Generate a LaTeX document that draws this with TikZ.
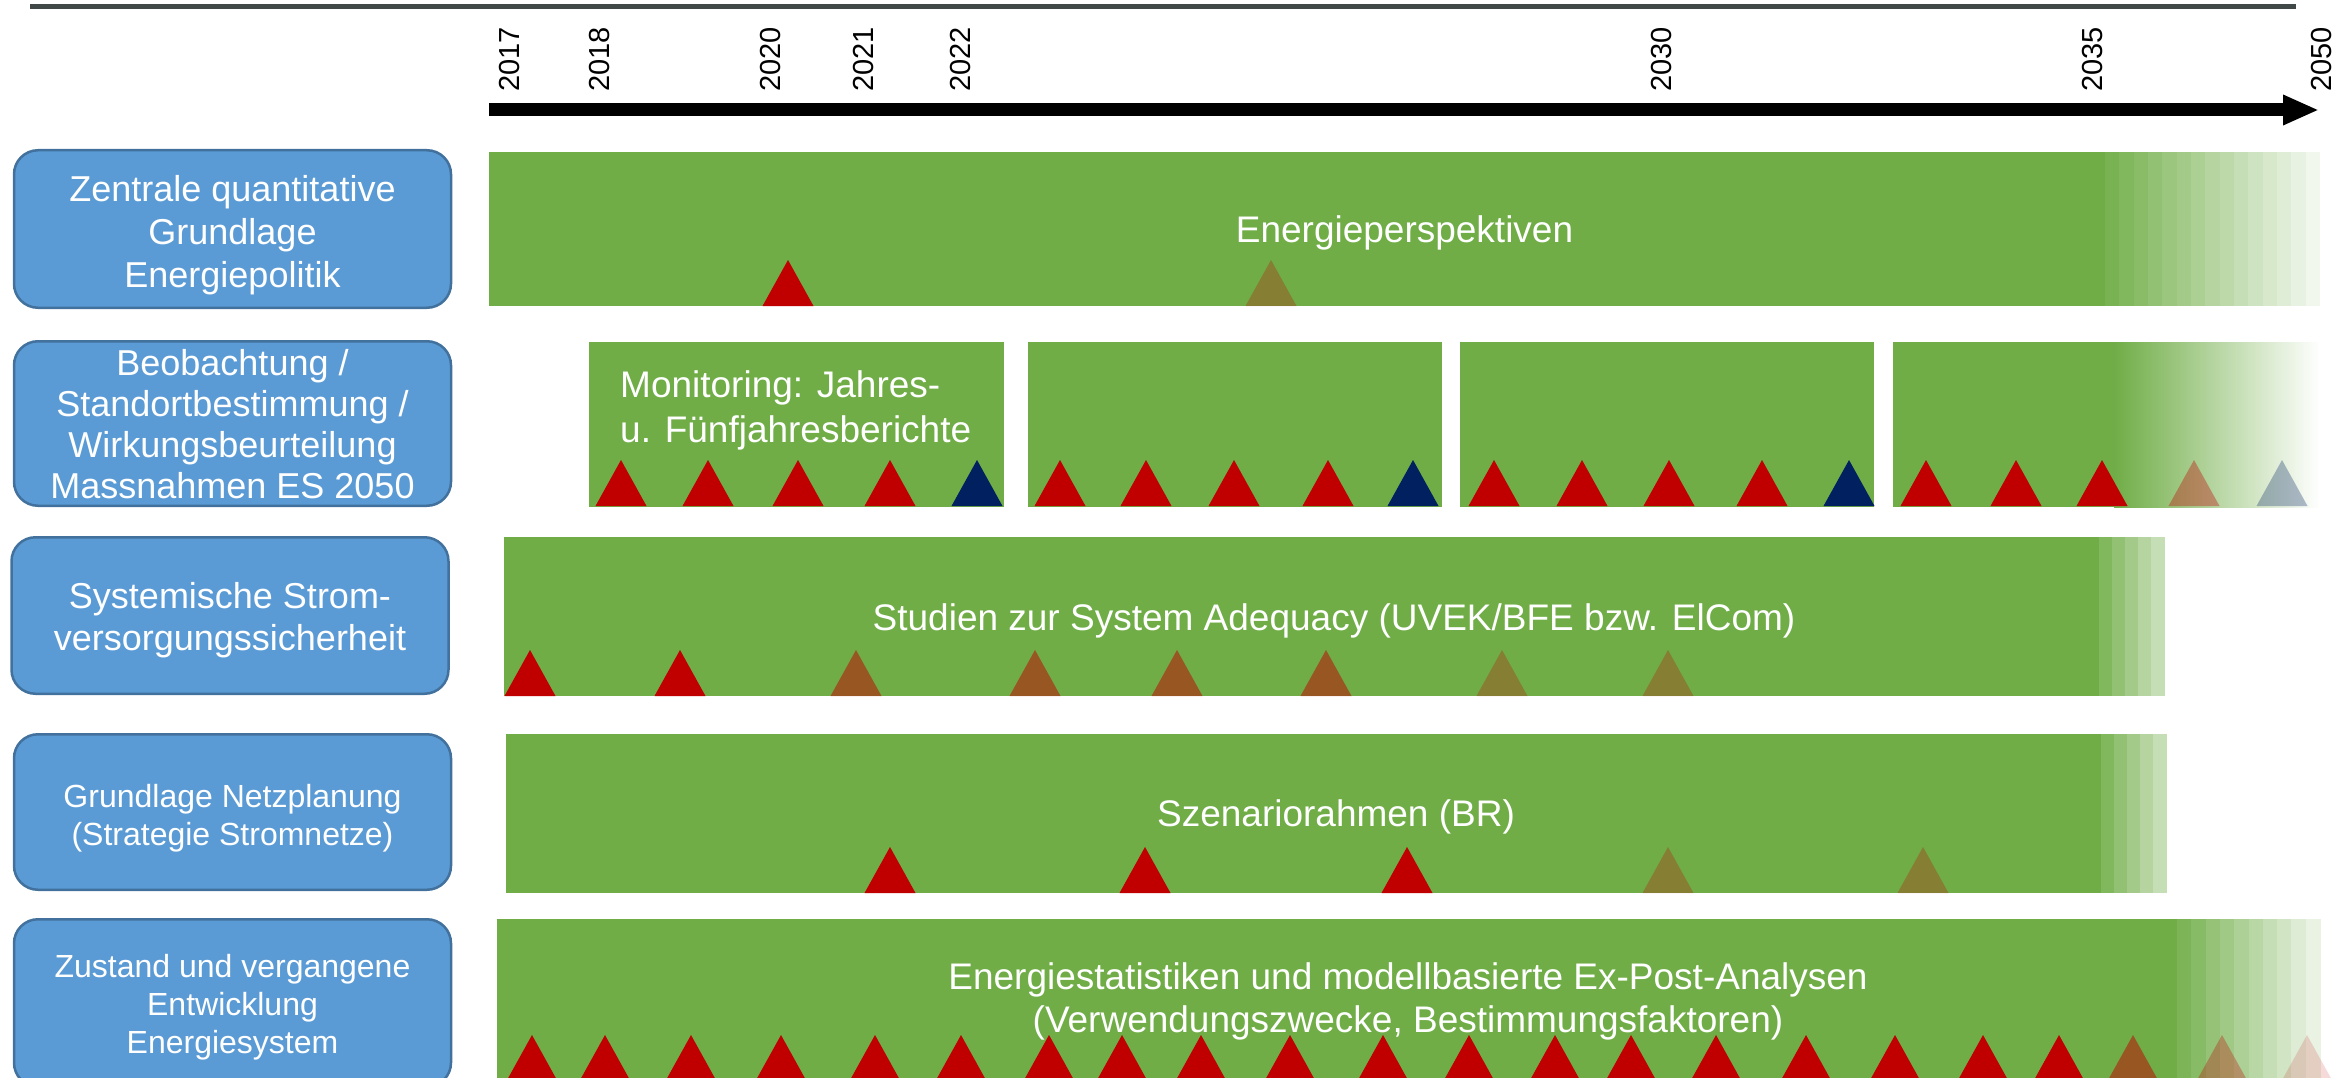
\documentclass[tikz,border=0pt]{standalone}
\usepackage{fontspec}
\setmainfont{Liberation Sans}
\usetikzlibrary{arrows.meta}

\definecolor{barGreen}{HTML}{70AD47}
\definecolor{boxBlue}{HTML}{5B9BD5}
\definecolor{boxLine}{HTML}{41719C}
\definecolor{triRed}{HTML}{C00000}
\definecolor{triNavy}{HTML}{002060}
\definecolor{ruleGray}{HTML}{414848}

\newcommand{\fadestripes}[6]{%
  \foreach \k in {1,...,#4}{
    \pgfmathtruncatemacro{\pct}{100-#6*\k}
    \fill[barGreen!\pct!white] ({#1+#5*(\k-1)},#2) rectangle ({#1+#5*\k+.5},#3);
  }}
\newcommand{\tris}[3]{%
  \foreach \x in {#3}
    \fill[#1] (\x-25.5,#2) -- (\x,#2-46) -- (\x+25.5,#2) -- cycle;}

\tikzset{
  topic/.style={draw=boxLine, line width=2.5pt, fill=boxBlue, rounded corners=24pt,
    inner sep=0pt, minimum width=437pt},
  topictext/.style={text=white, align=center, inner sep=0pt},
  bartext/.style={text=white, inner sep=0pt, align=center,
    font=\fontsize{37}{44}\selectfont},
  year/.style={rotate=90, anchor=west, inner sep=0pt,
    font=\fontsize{29}{35}\selectfont},
  tri full/.style={fill=triRed},
  tri half/.style={fill=triRed, fill opacity=.5},
  tri faint/.style={fill=triRed, fill opacity=.27},
  tri navy/.style={fill=triNavy}
}

\begin{document}
\begin{tikzpicture}[x=1pt,y=-1pt]
\useasboundingbox (0,0) rectangle (2336,1078);
\clip (0,0) rectangle (2336,1078);

\draw[ruleGray, line width=5pt] (30,6.5) -- (2296,6.5);

\coordinate (t0) at (489,110);
\coordinate (t1) at (2319,110);
\draw[line width=13pt, -{Triangle[length=36pt,width=28pt]}] (t0) -- (t1);
\foreach \yr/\x in {2017/510,2018/600,2020/771,2021/864,2022/961,2030/1661,2035/2092,2050/2321}
  \node[year] (y\yr) at (\x,92) {\yr};

\node[topic, minimum height=157.5pt] (zentral) at (232.5,229) {};
\node[topictext, yshift=-6pt, font=\fontsize{36}{43}\selectfont]
  (zentralT) at (zentral) {Zentrale quantitative\\Grundlage\\Energiepolitik};
\fill[barGreen] (489,152) rectangle (2105,306);
\fadestripes{2105}{152}{306}{15}{14.33}{6}
\node[bartext, anchor=base] (ep) at (1404.5,242) {Energieperspektiven};
\tris{tri full}{306}{788}
\tris{tri faint}{306}{1271}

\node[topic, minimum height=164.5pt] (monitor) at (232.5,423.5) {};
\node[topictext, yshift=-1pt, font=\fontsize{36}{41}\selectfont]
  (monitorT) at (monitor) {Beobachtung /\\Standortbestimmung /\\Wirkungsbeurteilung\\Massnahmen ES 2050};
\fill[barGreen] (589,342) rectangle (1004,507);
\fill[barGreen] (1028,342) rectangle (1442,507);
\fill[barGreen] (1460,342) rectangle (1874,507);
\fill[barGreen] (1893,342) rectangle (2114,507);
\shade[left color=barGreen, right color=white] (2114,342) rectangle (2320,507);
\node[bartext, align=left, anchor=west, font=\fontsize{37}{45}\selectfont]
  (mon) at (620,410) {Monitoring: Jahres-\\u. Fünfjahresberichte};
\tris{tri full}{506}{621,708,798,890,1060,1146,1234,1328,1494,1582,1669,1762,1926,2016,2102}
\tris{tri navy}{506}{977,1413,1849}
\tris{tri full, fill opacity=.35}{506}{2194}
\tris{tri navy, fill opacity=.3}{506}{2282}

\node[topic, minimum height=156.5pt] (versorg) at (230,615.5) {};
\node[topictext, yshift=-5pt, font=\fontsize{36}{42}\selectfont]
  (versorgT) at (versorg) {Systemische Strom-\\versorgungssicherheit};
\fill[barGreen] (504,537) rectangle (2099,696);
\fadestripes{2099}{537}{696}{5}{13}{12}
\node[bartext, anchor=base] (adequacy) at (1334,630) {Studien zur System Adequacy (UVEK/BFE bzw. ElCom)};
\tris{tri full}{696}{530,680}
\tris{tri half}{696}{856,1035,1177,1326}
\tris{tri faint}{696}{1502,1668}

\node[topic, minimum height=155.5pt] (netz) at (232.5,812) {};
\node[topictext, yshift=-6pt, font=\fontsize{32}{38}\selectfont]
  (netzT) at (netz) {Grundlage Netzplanung\\(Strategie Stromnetze)};
\fill[barGreen] (506,734) rectangle (2101,893);
\fadestripes{2101}{734}{893}{5}{13}{12}
\node[bartext, anchor=base] (szen) at (1336,826) {Szenariorahmen (BR)};
\tris{tri full}{893}{890,1145,1407}
\tris{tri faint}{893}{1668,1923}

\node[topic, minimum height=167.5pt] (zustand) at (232.5,1003) {};
\node[topictext, yshift=-4pt, font=\fontsize{32}{38}\selectfont]
  (zustandT) at (zustand) {Zustand und vergangene\\Entwicklung\\Energiesystem};
\fill[barGreen] (497,919) rectangle (2177,1090);
\fadestripes{2177}{919}{1090}{10}{14.3}{8.5}
\node[bartext, font=\fontsize{37}{43}\selectfont]
  (stat) at (1408,1001) {Energiestatistiken und modellbasierte Ex-Post-Analysen\\(Verwendungszwecke, Bestimmungsfaktoren)};
\tris{tri full}{1081}{532,605,691,781,875,961,1049,1122,1201,1290,1383,1469,1555,1631,1716,1806,1895,1983,2059}
\tris{tri half}{1081}{2133}
\tris{tri full, fill opacity=.3}{1081}{2222}
\tris{tri full, fill opacity=.15}{1081}{2307}
\end{tikzpicture}
\end{document}
